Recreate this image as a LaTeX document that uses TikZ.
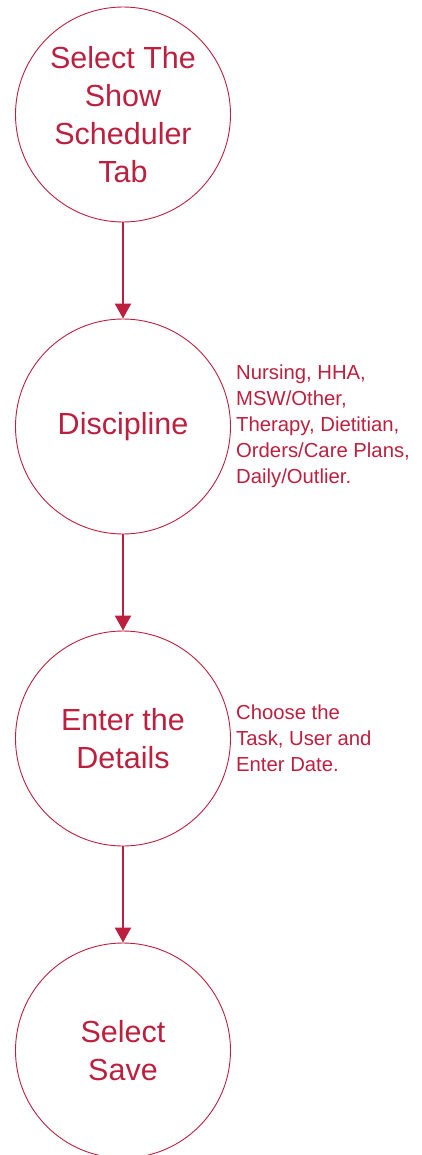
\documentclass[tikz,border=0pt]{standalone}
\usepackage{fontspec}
\setmainfont{Liberation Sans}
\usetikzlibrary{positioning,arrows.meta}
\definecolor{crimson}{RGB}{188,32,62}

\begin{document}
\begin{tikzpicture}[x=1pt,y=1pt,node distance=312pt,on grid,
    step circle/.style={circle,draw=crimson,line width=0.9pt,minimum size=215pt,inner sep=0pt,
      align=center,text=crimson,font=\fontsize{30.5}{38}\selectfont},
    note/.style={on grid=false,anchor=west,inner sep=0pt,align=left,text=crimson,
      font=\fontsize{20.3}{26}\selectfont},
    flow/.style={draw=crimson,line width=2.2pt,-{Triangle[length=15pt,width=16pt]}}]
		\useasboundingbox (0,0) rectangle (421,-1155);
		\node[step circle] (tab) at (123,-114.5) {Select The\\Show\\Scheduler\\Tab};
		\node[step circle] (disc) [below=of tab] {Discipline};
		\node[step circle] (details) [below=of disc] {Enter the\\Details};
		\node[step circle] (save) [below=of details] {Select\\Save};
		
		\node[note] (discnote) [right=5pt of disc.east] {Nursing, HHA,\\MSW/Other,\\Therapy, Dietitian,\\Orders/Care Plans,\\Daily/Outlier.};
		\node[note] (detailsnote) [right=5pt of details.east] {Choose the\\Task, User and\\Enter Date.};
		
		\path[flow] (tab) -- (disc);
		\path[flow] (disc) -- (details);
		\path[flow] (details) -- (save);
	\end{tikzpicture}
\end{document}
